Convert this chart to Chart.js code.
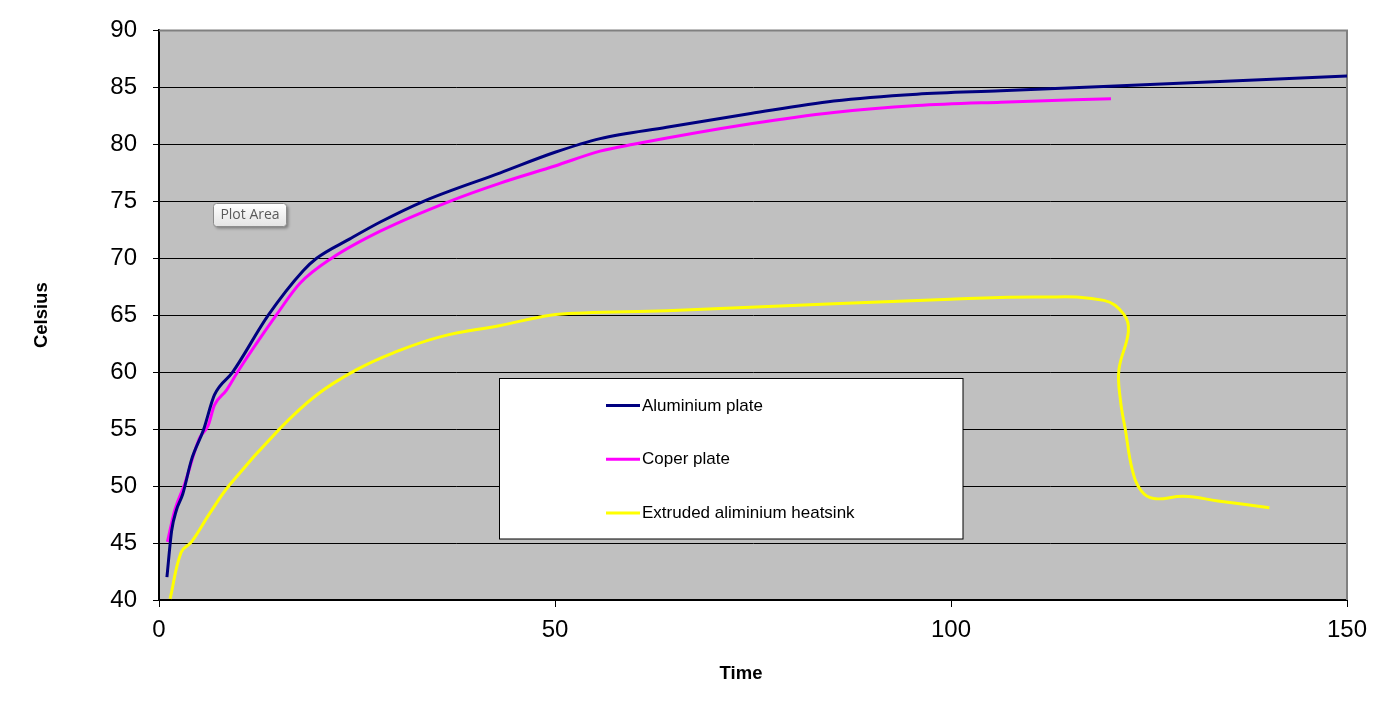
<!DOCTYPE html>
<html>
<head>
<meta charset="utf-8">
<title>Celsius vs Time</title>
<script src="https://cdn.jsdelivr.net/npm/chart.js@4.4.1/dist/chart.umd.min.js"></script>
<style>
  html, body { margin: 0; padding: 0; background: #fff; }
  #wrap { width: 1392px; height: 706px; }
</style>
</head>
<body>
<div id="wrap"><canvas id="tempChart" width="1392" height="706"></canvas></div>
<script>
// series
const seriesNames = ['Aluminium plate', 'Coper plate', 'Extruded aliminium heatsink'];

const aluTime = [1, 1.6, 2.2, 3, 4.1, 5.6, 7, 9.3, 13.8, 18.2, 19.9, 24.1, 28, 33.4, 43.1, 50, 55.7, 64.1, 74.7, 85.2, 95.7, 106.3, 120, 150];
const aluTemp = [42, 46.1, 47.9, 49.3, 52.3, 54.9, 58, 60, 65, 68.9, 70, 71.7, 73.2, 75, 77.5, 79.3, 80.5, 81.5, 82.7, 83.8, 84.4, 84.7, 85.1, 86];

const copTime = [1.06, 2, 3.2, 5.1, 6.2, 7, 8.5, 10, 14.8, 17.8, 21.8, 28, 36.7, 43.1, 50, 55.7, 59.9, 74.7, 85.2, 95.7, 106.3, 120.2];
const copTemp = [45.1, 47.9, 50.1, 54.2, 55.3, 57.1, 58.4, 60.1, 65, 67.8, 70, 72.4, 75, 76.6, 78.1, 79.4, 80, 81.8, 82.8, 83.4, 83.7, 84];

const sinkTime = [1.4, 2.8, 4.1, 6.4, 8.9, 15.2, 19.9, 24.9, 29.6, 35.5, 43.1, 49.4, 53.6, 64.1, 85.2, 99.9, 111.3, 119.3, 121.8, 122.4, 121.2, 121.4, 122, 122.9, 124, 125.6, 129.4, 133.7, 140.2];
const sinkTemp = [40.1, 44.2, 45.1, 47.6, 50.1, 55, 58, 60.2, 61.7, 63.1, 64.1, 65, 65.2, 65.4, 66, 66.4, 66.6, 66.3, 65.1, 63.6, 60.2, 57.5, 55, 51.4, 49.6, 48.9, 49.1, 48.7, 48.1];

const seriesColors = ['#000080', '#ff00ff', '#ffff00'];

const pairs = (xs, ys) => xs.map((x, i) => ({x, y: ys[i]}));

const FONT = '"Liberation Sans", Arial, sans-serif';

// grey plot area + grey top/right frame like the excel chart
const plotBackground = {
  id: 'plotBackground',
  beforeDraw(chart) {
    const {ctx, chartArea: a} = chart;
    ctx.save();
    ctx.fillStyle = '#c0c0c0';
    ctx.fillRect(a.left, a.top, a.right - a.left, a.bottom - a.top);
    ctx.restore();
  },
  beforeDatasetsDraw(chart) {
    const {ctx, chartArea: a} = chart;
    ctx.save();
    ctx.strokeStyle = '#808080';
    ctx.lineWidth = 2;
    ctx.beginPath();
    ctx.moveTo(a.left, a.top);
    ctx.lineTo(a.right, a.top);
    ctx.lineTo(a.right, a.bottom);
    ctx.stroke();
    ctx.restore();
  }
};

// legend box inside the plot, the x title and the "Plot Area" tag
const boxLegend = {
  id: 'boxLegend',
  afterDraw(chart) {
    const ctx = chart.ctx;
    ctx.save();
    ctx.fillStyle = '#fff';
    ctx.fillRect(499.5, 378.5, 463.5, 160.5);
    ctx.strokeStyle = '#000';
    ctx.lineWidth = 1;
    ctx.strokeRect(499.5, 378.5, 463.5, 160.5);
    chart.data.datasets.forEach((ds, i) => {
      const y = 405.5 + i * 53.7;
      ctx.strokeStyle = ds.borderColor;
      ctx.lineWidth = 3;
      ctx.beginPath();
      ctx.moveTo(606, y);
      ctx.lineTo(640, y);
      ctx.stroke();
      ctx.fillStyle = '#000';
      ctx.font = '17px ' + FONT;
      ctx.textBaseline = 'middle';
      ctx.fillText(ds.label, 642, y + 0.5);
    });

    ctx.font = 'bold 18.5px ' + FONT;
    ctx.textAlign = 'center';
    ctx.textBaseline = 'middle';
    ctx.fillText('Time', 741, 674);

    ctx.shadowColor = 'rgba(0,0,0,0.35)';
    ctx.shadowOffsetX = 2;
    ctx.shadowOffsetY = 2;
    ctx.shadowBlur = 3;
    const g = ctx.createLinearGradient(0, 204, 0, 226);
    g.addColorStop(0, '#ffffff');
    g.addColorStop(1, '#e4e4e4');
    ctx.fillStyle = g;
    ctx.beginPath();
    ctx.roundRect(213.5, 203.5, 73, 23, 3);
    ctx.fill();
    ctx.shadowColor = 'transparent';
    ctx.strokeStyle = '#8c8c8c';
    ctx.lineWidth = 1;
    ctx.stroke();
    ctx.fillStyle = '#5a5a5a';
    ctx.font = '14px "Open Sans", "Noto Sans", sans-serif';
    ctx.fillText('Plot Area', 250, 215.5);
    ctx.restore();
  }
};

const lineStyle = {
  showLine: true,
  borderWidth: 3,
  pointRadius: 0,
  pointHoverRadius: 0,
};

new Chart(document.getElementById('tempChart'), {
  type: 'scatter',
  data: {
    datasets: [
      {label: seriesNames[0], data: pairs(aluTime, aluTemp), borderColor: seriesColors[0], cubicInterpolationMode: 'monotone', ...lineStyle},
      {label: seriesNames[1], data: pairs(copTime, copTemp), borderColor: seriesColors[1], cubicInterpolationMode: 'monotone', ...lineStyle},
      {label: seriesNames[2], data: pairs(sinkTime, sinkTemp), borderColor: seriesColors[2], tension: 0.4, ...lineStyle},
    ]
  },
  options: {
    responsive: false,
    animation: false,
    devicePixelRatio: 1,
    layout: {padding: {top: 30, right: 45, left: 0, bottom: 0}},
    plugins: {
      legend: {display: false},
      tooltip: {enabled: false},
    },
    scales: {
      x: {
        type: 'linear',
        min: 0,
        max: 150,
        afterFit: scale => { scale.height = 106; },
        ticks: {stepSize: 50, color: '#000', padding: 9, font: {family: FONT, size: 24}},
        grid: {drawOnChartArea: false, drawTicks: true, tickLength: 7, tickColor: '#000', tickWidth: 1},
        border: {display: true, color: '#000', width: 2},
        title: {display: false, text: 'Time'},
      },
      y: {
        type: 'linear',
        min: 40,
        max: 90,
        afterFit: scale => { scale.width = 159; },
        ticks: {stepSize: 5, color: '#000', padding: 16, font: {family: FONT, size: 24}},
        grid: {color: '#000', lineWidth: 1, tickLength: 6, tickColor: '#000'},
        border: {display: true, color: '#000', width: 2},
        title: {display: true, text: 'Celsius', color: '#000', font: {family: FONT, size: 18.5, weight: 'bold'}, padding: {top: 31, bottom: 0}},
      }
    }
  },
  plugins: [plotBackground, boxLegend]
});
</script>
</body>
</html>
